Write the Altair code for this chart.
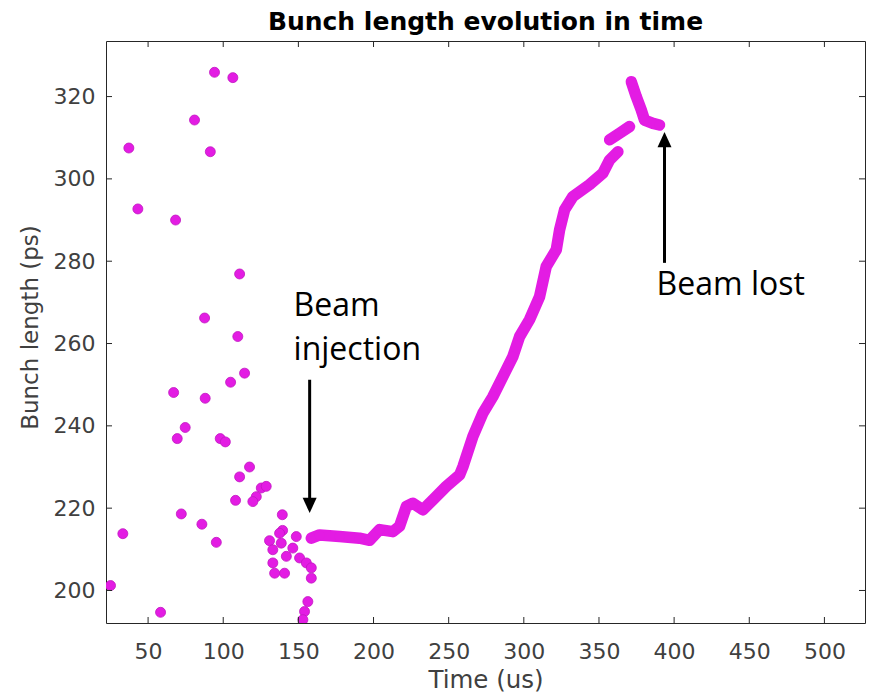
import altair as alt
import pandas as pd

# ---- data ----
# scattered measurements before injection
scatter_time = [94.2, 106.4, 80.9, 37.2, 91.4, 43.2, 68.3, 110.9, 87.6, 109.7,
                114.2, 104.9, 67.0, 88.0, 74.7, 69.4, 98.0, 101.4, 117.5, 110.9,
                125.3, 128.6, 122.0, 119.7, 108.2, 72.1, 85.8, 95.4, 33.2, 25.0,
                58.3, 139.3, 139.5, 130.8, 137.5, 138.6, 133.0, 133.0, 134.2, 140.8,
                142.0, 146.3, 148.6, 150.8, 155.3, 158.6, 158.6, 156.3, 154.1, 153.0]
scatter_len = [325.9, 324.6, 314.3, 307.5, 306.6, 292.7, 290.0, 276.9, 266.2, 261.7,
               252.8, 250.6, 248.1, 246.7, 239.6, 236.9, 236.9, 236.1, 230.0, 227.6,
               224.9, 225.3, 222.8, 221.6, 221.9, 218.6, 216.1, 211.7, 213.8, 201.2,
               194.7, 218.4, 214.6, 212.1, 213.9, 211.5, 209.9, 206.7, 204.2, 204.2,
               208.3, 210.3, 213.1, 207.9, 206.7, 205.5, 203.0, 197.3, 194.9, 192.9]

# main (dense) trace after injection, in three pieces
curve_time = [158.6, 164.1, 177.4, 190.7, 197.4, 204.0, 212.9, 217.3, 221.8, 226.2,
              232.8, 239.5, 248.4, 257.3, 259.5, 266.1, 272.8, 279.4, 286.1, 292.7,
              297.2, 303.8, 310.5, 314.9, 321.6, 323.8, 327.1, 332.6, 343.7, 352.6,
              357.1, 362.6,
              357.1, 363.7, 370.3,
              371.5, 374.8, 378.1, 380.3, 385.9, 390.3]
curve_len = [212.7, 213.5, 213.1, 212.7, 212.2, 214.8, 214.3, 215.6, 220.4, 221.2,
             219.6, 222.0, 225.3, 228.1, 230.1, 237.4, 243.1, 247.1, 252.0, 256.8,
             261.7, 265.8, 271.4, 278.7, 282.8, 287.6, 292.5, 295.7, 298.6, 301.4,
             304.6, 306.6,
             309.5, 311.1, 312.7,
             323.6, 320.0, 316.8, 314.3, 313.5, 313.1]
curve_seg = [0] * 32 + [1] * 3 + [2] * 6

x_ticks = [50, 100, 150, 200, 250, 300, 350, 400, 450, 500]
y_ticks = [200, 220, 240, 260, 280, 300, 320]

ann_text = ["Beam", "injection", "Beam lost"]
ann_x = [146.8, 146.8, 388.3]
ann_y = [266.6, 256.0, 271.8]

arrow_x = [157.5, 393.6]
arrow_from = [251.2, 279.6]
arrow_to = [218.8, 311.4]
arrow_dir = ["down", "up"]

# ---- tables ----
scatter_df = pd.DataFrame({"t": scatter_time, "b": scatter_len})
curve_df = pd.DataFrame({"t": curve_time, "b": curve_len, "seg": curve_seg})
xt_df = pd.DataFrame({"t": x_ticks})
yt_df = pd.DataFrame({"b": y_ticks})
ann_df = pd.DataFrame({"t": ann_x, "b": ann_y, "label": ann_text})
arr_df = pd.DataFrame({"t": arrow_x, "b": arrow_from, "b2": arrow_to, "dir": arrow_dir})

W, H = 759, 582
MAG = "#E31CE3"
AX = "#262626"
LBL = "#404040"

x_scale = alt.Scale(domain=[22, 527], nice=False, zero=False)
y_scale = alt.Scale(domain=[192.1, 333.5], nice=False, zero=False)

x_axis = alt.Axis(values=x_ticks, ticks=False, tickSize=0, domain=False, grid=False,
                  labelFont="DejaVu Sans", labelFontSize=22, labelColor=LBL,
                  labelPadding=18, labelFlush=False,
                  titleFont="DejaVu Sans", titleFontSize=24.5, titleColor=LBL,
                  titleFontWeight="normal", titleY=64, titleBaseline="alphabetic")
y_axis = alt.Axis(values=y_ticks, ticks=False, tickSize=0, domain=False, grid=False,
                  labelFont="DejaVu Sans", labelFontSize=22, labelColor=LBL,
                  labelPadding=11, labelFlush=False,
                  titleFont="DejaVu Sans", titleFontSize=23, titleColor=LBL,
                  titleFontWeight="normal", titleAngle=270, titleX=-69, titleY=286,
                  titleAlign="center", titleBaseline="alphabetic")


def X(field="t"):
    return alt.X(f"{field}:Q", scale=x_scale, axis=x_axis, title="Time (us)")


def Y(field="b"):
    return alt.Y(f"{field}:Q", scale=y_scale, axis=y_axis, title="Bunch length (ps)")


tick_bottom = alt.Chart(xt_df).mark_rule(color=AX, strokeWidth=1).encode(
    x=X(), y=alt.value(H), y2=alt.value(H - 6))
tick_top = alt.Chart(xt_df).mark_rule(color=AX, strokeWidth=1).encode(
    x=X(), y=alt.value(0), y2=alt.value(6))
tick_left = alt.Chart(yt_df).mark_rule(color=AX, strokeWidth=1).encode(
    y=Y(), x=alt.value(0), x2=alt.value(6))
tick_right = alt.Chart(yt_df).mark_rule(color=AX, strokeWidth=1).encode(
    y=Y(), x=alt.value(W), x2=alt.value(W - 6))

scatter = alt.Chart(scatter_df).mark_circle(
    size=100, color=MAG, opacity=1, stroke="#C018C0", strokeWidth=0.8, clip=True
).encode(x=X(), y=Y())

curve_line = alt.Chart(curve_df).mark_line(
    color=MAG, strokeWidth=11.5, strokeCap="round", strokeJoin="round", clip=True
).encode(x=X(), y=Y(), detail="seg:N")

curve_pts = alt.Chart(curve_df).mark_circle(
    size=100, color=MAG, opacity=1, clip=True
).encode(x=X(), y=Y())

shaft_down = alt.Chart(arr_df).transform_filter(alt.datum.dir == "down").mark_rule(
    color="black", strokeWidth=3, y2Offset=-12).encode(x=X(), y=Y(), y2="b2:Q")
shaft_up = alt.Chart(arr_df).transform_filter(alt.datum.dir == "up").mark_rule(
    color="black", strokeWidth=3, y2Offset=12).encode(x=X(), y=Y(), y2="b2:Q")
head_down = alt.Chart(arr_df).transform_filter(alt.datum.dir == "down").mark_point(
    shape="M-1,-2.2L1,-2.2L0,0Z", size=196, filled=True, color="black", opacity=1,
    strokeWidth=0).encode(x=X(), y=Y("b2"))
head_up = alt.Chart(arr_df).transform_filter(alt.datum.dir == "up").mark_point(
    shape="M-1,2.2L1,2.2L0,0Z", size=196, filled=True, color="black", opacity=1,
    strokeWidth=0).encode(x=X(), y=Y("b2"))

labels = alt.Chart(ann_df).mark_text(
    align="left", baseline="alphabetic", font="Open Sans", fontSize=32, color="black"
).encode(x=X(), y=Y(), text="label:N")

chart = alt.layer(
    scatter, curve_line, curve_pts,
    tick_bottom, tick_top, tick_left, tick_right,
    shaft_down, shaft_up, head_down, head_up, labels
).properties(
    width=W, height=H,
    title=alt.TitleParams("Bunch length evolution in time", font="DejaVu Sans",
                          fontSize=25, fontWeight="bold", color="black",
                          anchor="middle", baseline="alphabetic", offset=11, dy=25),
    autosize=alt.AutoSizeParams(type="none"),
    padding={"left": 106, "top": 41, "right": 9, "bottom": 71},
    background="white",
).configure_view(stroke=AX, strokeWidth=1)

chart.save("out.html", embed_options={"renderer": "svg", "actions": False})
